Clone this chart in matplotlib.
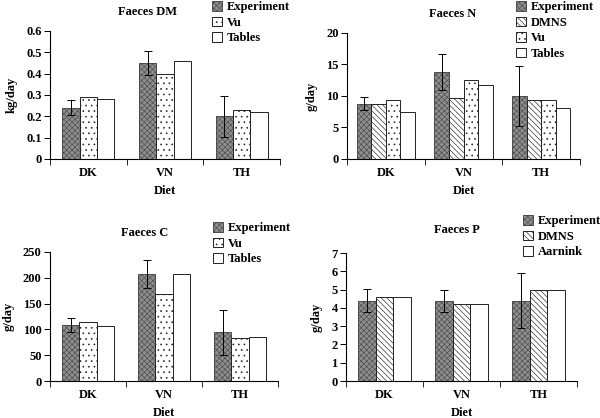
import numpy as np
import matplotlib
matplotlib.use('Agg')
import matplotlib.pyplot as plt

plt.rcParams['font.family'] = ['Liberation Serif', 'DejaVu Serif']
plt.rcParams['font.weight'] = 'bold'
plt.rcParams['hatch.linewidth'] = 0.45

# ── data ─────────────────────────────────────────────────────────────────────
diets = ['DK', 'VN', 'TH']

dm_exp = [0.24, 0.45, 0.20]
dm_err = [0.035, 0.057, 0.095]
dm_vu = [0.29, 0.40, 0.23]
dm_tables = [0.28, 0.46, 0.22]

n_exp = [8.8, 13.8, 10.0]
n_err = [1.1, 2.8, 4.8]
n_dmns = [8.7, 9.7, 9.4]
n_vu = [9.4, 12.5, 9.3]
n_tables = [7.4, 11.7, 8.1]

c_exp = [109, 207, 94]
c_err = [14, 27, 43]
c_vu = [115, 169, 83]
c_tables = [106, 208, 86]

p_exp = [4.4, 4.4, 4.4]
p_err = [0.65, 0.6, 1.5]
p_dmns = [4.62, 4.21, 4.96]
p_aarnink = [4.62, 4.21, 4.96]

# bar styles per source
styles = {
    'Experiment': dict(facecolor='#8e8e8e', hatch='xxxxxx', edgecolor='#4a4a4a'),
    'DMNS': dict(facecolor='white', hatch='\\\\\\\\\\\\', edgecolor='#222222'),
    'Vu': dict(facecolor='white', hatch='...', edgecolor='#222222'),
    'Tables': dict(facecolor='white', hatch='', edgecolor='#222222'),
    'Aarnink': dict(facecolor='white', hatch='', edgecolor='#222222'),
}

fig = plt.figure(figsize=(6.0, 4.18), dpi=100, facecolor='white')

W, H = 600.0, 418.0
FS = 9


def px_axes(x0, x1, ytop, ybot):
    return fig.add_axes([x0 / W, 1 - ybot / H, (x1 - x0) / W, (ybot - ytop) / H])


def panel(ax, series, err, group_w, ylim, yticks, ylabel, title, title_xy,
          leg_xy, yfmt):
    x = np.arange(len(diets))
    n = len(series)
    bw = group_w / n
    for k, (name, vals) in enumerate(series):
        pos = x - group_w / 2 + bw * (k + 0.5)
        ax.bar(pos, vals, bw, linewidth=0.7, label=name, zorder=2,
               **styles[name])
        if k == 0:
            ax.errorbar(pos, vals, yerr=err, fmt='none', ecolor='black',
                        elinewidth=0.7, capsize=3, capthick=0.7, zorder=3)
    ax.set_xlim(-0.5, len(diets) - 0.5)
    ax.set_ylim(*ylim)
    ax.set_yticks(yticks)
    ax.set_yticklabels([yfmt(v) for v in yticks], fontsize=FS, fontweight='bold')
    ax.set_xticks(x)
    ax.set_xticklabels(diets, fontsize=FS, fontweight='bold')
    ax.tick_params(axis='x', length=0, pad=6)
    ax.set_xticks(np.arange(len(diets) + 1) - 0.5, minor=True)
    ax.tick_params(axis='x', which='minor', length=4, direction='out')
    ax.tick_params(axis='y', length=4, direction='out', width=0.7, pad=2)
    for s in ['top', 'right']:
        ax.spines[s].set_visible(False)
    for s in ['left', 'bottom']:
        ax.spines[s].set_linewidth(0.8)
    ax.set_xlabel('Diet', fontsize=FS, fontweight='bold', labelpad=4)
    ax.set_ylabel(ylabel, fontsize=FS, fontweight='bold', labelpad=6)
    fig.text(title_xy[0] / W, 1 - title_xy[1] / H, title, ha='center',
             va='center', fontsize=FS, fontweight='bold')
    ax.legend(loc='upper left', bbox_to_anchor=(leg_xy[0] / W, 1 - leg_xy[1] / H),
              bbox_transform=fig.transFigure, frameon=False,
              prop=dict(weight='bold', size=FS),
              handlelength=0.8, handleheight=0.8, handletextpad=0.35,
              labelspacing=0.28, borderpad=0, borderaxespad=0)


ax1 = px_axes(50, 280, 31, 159)
panel(ax1, [('Experiment', dm_exp), ('Vu', dm_vu), ('Tables', dm_tables)],
      dm_err, 0.68, (0, 0.6), np.arange(0, 0.61, 0.1), 'kg/day', 'Faeces DM',
      (147, 12), (212, 1), lambda v: '0' if v == 0 else f'{v:.1f}')

ax2 = px_axes(347, 580, 33, 159)
panel(ax2, [('Experiment', n_exp), ('DMNS', n_dmns), ('Vu', n_vu),
            ('Tables', n_tables)],
      n_err, 0.75, (0, 20), np.arange(0, 21, 5), 'g/day', 'Faeces N',
      (453, 14), (516, 1), lambda v: f'{v:.0f}')

ax3 = px_axes(50, 278, 252, 381)
panel(ax3, [('Experiment', c_exp), ('Vu', c_vu), ('Tables', c_tables)],
      c_err, 0.68, (0, 250), np.arange(0, 251, 50), 'g/day', 'Faeces C',
      (145, 233), (213, 222), lambda v: f'{v:.0f}')

ax4 = px_axes(346, 577, 253, 381)
panel(ax4, [('Experiment', p_exp), ('DMNS', p_dmns), ('Aarnink', p_aarnink)],
      p_err, 0.69, (0, 7), np.arange(0, 8, 1), 'g/day', 'Faeces P',
      (457, 230), (523, 215), lambda v: f'{v:.0f}')

plt.savefig('out.png', dpi=100, facecolor='white')
